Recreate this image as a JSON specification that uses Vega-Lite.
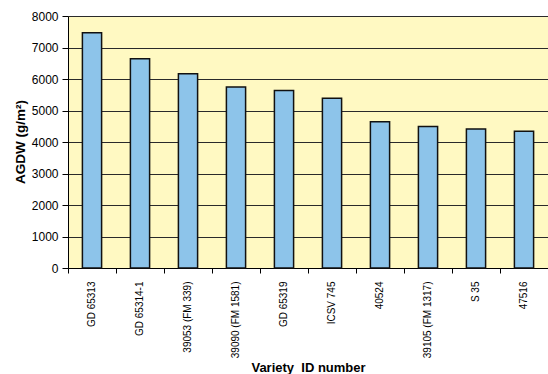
{
  "$schema": "https://vega.github.io/schema/vega-lite/v6.json",
  "autosize": "none",
  "width": 480,
  "height": 252,
  "padding": {"left": 68, "top": 16, "right": 0, "bottom": 106},
  "background": "#ffffff",
  "config": {
    "font": "Liberation Sans",
    "view": {"fill": "#FFF9C2", "stroke": null}
  },
  "data": {
    "values": [
      {"variety": "GD 65313", "agdw": 7470},
      {"variety": "GD 65314-1", "agdw": 6645},
      {"variety": "39053 (FM 339)", "agdw": 6170},
      {"variety": "39090 (FM 1581)", "agdw": 5745},
      {"variety": "GD 65319", "agdw": 5635},
      {"variety": "ICSV 745", "agdw": 5385},
      {"variety": "40524", "agdw": 4645},
      {"variety": "39105 (FM 1317)", "agdw": 4495},
      {"variety": "S 35", "agdw": 4415},
      {"variety": "47516", "agdw": 4340}
    ]
  },
  "mark": {
    "type": "bar",
    "fill": "#8DC4EA",
    "stroke": "#111111",
    "strokeWidth": 1.5,
    "width": {"band": 0.4}
  },
  "encoding": {
    "x": {
      "field": "variety",
      "type": "nominal",
      "sort": null,
      "scale": {"paddingInner": 0, "paddingOuter": 0},
      "axis": {
        "title": "Variety\u00a0 ID number",
        "titleFont": "Liberation Sans",
        "titleFontSize": 13,
        "titleFontWeight": "bold",
        "titleColor": "#000000",
        "titleY": 103.5,
        "titleBaseline": "alphabetic",
        "labelAngle": -90,
        "labelAlign": "right",
        "labelBaseline": "middle",
        "labelFontSize": 10,
        "labelColor": "#000000",
        "labelPadding": 8,
        "bandPosition": 0,
        "tickSize": 5,
        "tickColor": "#000000",
        "domainColor": "#000000",
        "domainWidth": 1,
        "grid": false
      }
    },
    "y": {
      "field": "agdw",
      "type": "quantitative",
      "scale": {"domain": [0, 8000], "nice": false},
      "axis": {
        "title": "AGDW (g/m²)",
        "titleFont": "Liberation Sans",
        "titleFontSize": 13.5,
        "titleFontWeight": "bold",
        "titleColor": "#000000",
        "titleAngle": -90,
        "titleX": -43.5,
        "titleY": 125.4,
        "titleAlign": "center",
        "titleBaseline": "alphabetic",
        "values": [0, 1000, 2000, 3000, 4000, 5000, 6000, 7000, 8000],
        "format": "d",
        "labelFontSize": 12,
        "labelColor": "#000000",
        "labelPadding": 4,
        "tickSize": 6,
        "tickColor": "#000000",
        "domainColor": "#000000",
        "domainWidth": 1,
        "grid": true,
        "gridColor": "#2a2a2a",
        "gridWidth": 1,
        "gridOpacity": 1
      }
    }
  }
}
